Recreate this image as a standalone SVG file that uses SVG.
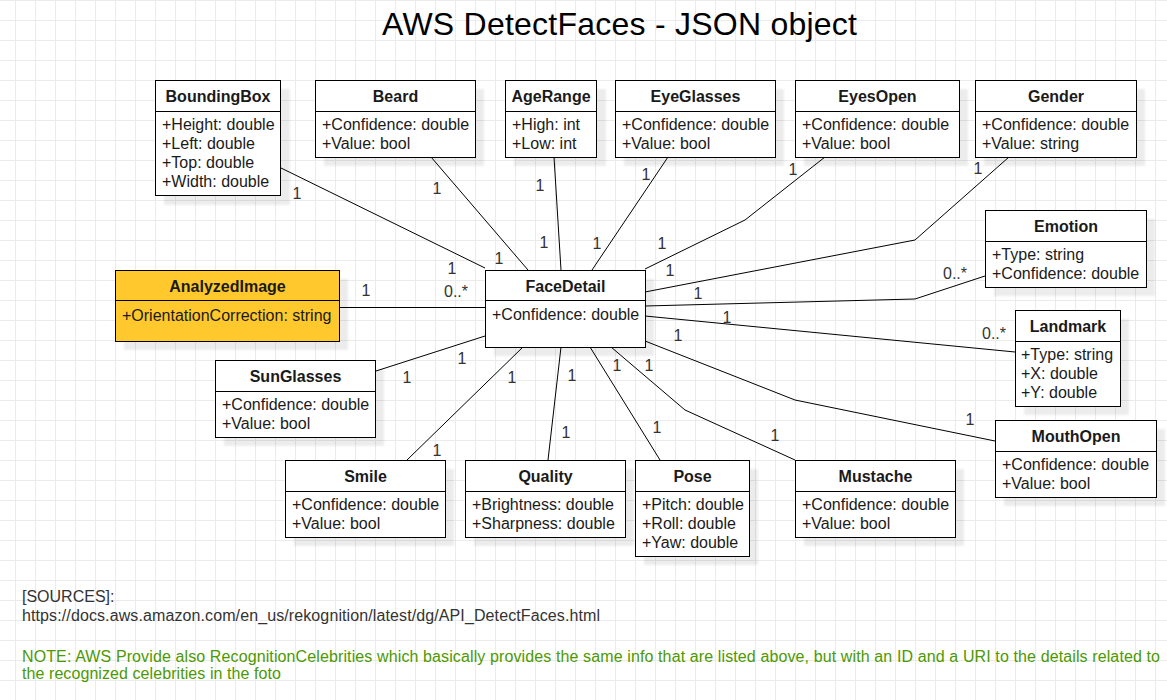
<svg xmlns="http://www.w3.org/2000/svg" width="1167" height="700" viewBox="0 0 1167 700">
<defs>
<pattern id="grid" x="15" y="0" width="20" height="20" patternUnits="userSpaceOnUse">
<path d="M0.5 0V20M0 0.5H20" stroke="#ebebeb" stroke-width="1" fill="none"/>
</pattern>
<filter id="sh" x="-10%" y="-10%" width="130%" height="140%">
<feGaussianBlur stdDeviation="1.2"/>
</filter>
<style>
.box{fill:#fff;stroke:#000;stroke-width:1}
.hl{fill:#ffc82c}
.shadow{fill:#000;opacity:0.07;filter:url(#sh)}
.div{stroke:#000;stroke-width:1}
.t{font-family:"Liberation Sans",Arial,Helvetica,sans-serif;font-size:16px;fill:#1a1a1a}
.b{font-weight:bold;text-anchor:middle}
.lbl{font-family:"Liberation Sans",Arial,Helvetica,sans-serif;font-size:16px;fill:#333;text-anchor:middle}
.edge{fill:none;stroke:#000;stroke-width:1}
.src{font-family:"Liberation Sans",Arial,Helvetica,sans-serif;font-size:16px;fill:#333}
.note{font-family:"Liberation Sans",Arial,Helvetica,sans-serif;font-size:16px;fill:#4d9900}
</style>
</defs>
<rect width="1167" height="700" fill="#fff"/>
<rect width="1167" height="700" fill="url(#grid)"/>

<text x="382" y="35" font-family="Liberation Sans,Arial,Helvetica,sans-serif" font-size="32" fill="#000" textLength="475" lengthAdjust="spacing">AWS DetectFaces - JSON object</text>

<g id="connectors">
<polyline class="edge" points="281,168 485,268"/>
<polyline class="edge" points="431,157 528,270"/>
<polyline class="edge" points="554,157 561,270"/>
<polyline class="edge" points="668,157 592,270"/>
<polyline class="edge" points="825,157 745,220 645,269"/>
<polyline class="edge" points="1009,157 915,240 645,292"/>
<polyline class="edge" points="985,276 915,299 645,306"/>
<polyline class="edge" points="1015,352 645,316"/>
<polyline class="edge" points="995,441 795,400 645,341"/>
<polyline class="edge" points="339,307.5 485,307.5"/>
<polyline class="edge" points="376,371 485,336"/>
<polyline class="edge" points="407,460 523,347"/>
<polyline class="edge" points="548,460 561,347"/>
<polyline class="edge" points="660,460 590,347"/>
<polyline class="edge" points="795,460 685,410 611,347"/>
</g>

<g id="labels">
<text class="lbl" x="297" y="199">1</text>
<text class="lbl" x="437" y="194">1</text>
<text class="lbl" x="540" y="191">1</text>
<text class="lbl" x="646" y="180">1</text>
<text class="lbl" x="793" y="175">1</text>
<text class="lbl" x="978" y="174">1</text>
<text class="lbl" x="499" y="264">1</text>
<text class="lbl" x="544" y="248">1</text>
<text class="lbl" x="597" y="249">1</text>
<text class="lbl" x="662" y="249">1</text>
<text class="lbl" x="452" y="274">1</text>
<text class="lbl" x="670" y="276">1</text>
<text class="lbl" x="955" y="279">0..*</text>
<text class="lbl" x="366" y="296">1</text>
<text class="lbl" x="456" y="297">0..*</text>
<text class="lbl" x="698" y="299">1</text>
<text class="lbl" x="727" y="323">1</text>
<text class="lbl" x="994" y="339">0..*</text>
<text class="lbl" x="678" y="341">1</text>
<text class="lbl" x="462" y="364">1</text>
<text class="lbl" x="407" y="383">1</text>
<text class="lbl" x="512" y="383">1</text>
<text class="lbl" x="572" y="381">1</text>
<text class="lbl" x="617" y="371">1</text>
<text class="lbl" x="649" y="371">1</text>
<text class="lbl" x="970" y="425">1</text>
<text class="lbl" x="657" y="433">1</text>
<text class="lbl" x="775" y="441">1</text>
<text class="lbl" x="566" y="438">1</text>
<text class="lbl" x="437" y="456">1</text>
</g>

<g id="BoundingBox">
<rect class="shadow" x="164" y="89" width="126" height="116"/>
<rect class="box" x="155.5" y="80.5" width="125" height="115"/>
<line class="div" x1="155.5" y1="111.5" x2="280.5" y2="111.5"/>
<text class="t b" x="218" y="101.5">BoundingBox</text>
<text class="t" x="162" y="130">+Height: double</text>
<text class="t" x="162" y="149">+Left: double</text>
<text class="t" x="162" y="168">+Top: double</text>
<text class="t" x="162" y="187">+Width: double</text>
</g>

<g id="Beard">
<rect class="shadow" x="324" y="89" width="160" height="77"/>
<rect class="box" x="315.5" y="80.5" width="160" height="77"/>
<line class="div" x1="315.5" y1="111.5" x2="475.5" y2="111.5"/>
<text class="t b" x="395.5" y="101.5">Beard</text>
<text class="t" x="322" y="130">+Confidence: double</text>
<text class="t" x="322" y="149">+Value: bool</text>
</g>

<g id="AgeRange">
<rect class="shadow" x="514" y="89" width="92" height="77"/>
<rect class="box" x="505.5" y="80.5" width="91" height="77"/>
<line class="div" x1="505.5" y1="111.5" x2="596.5" y2="111.5"/>
<text class="t b" x="551" y="101.5">AgeRange</text>
<text class="t" x="512" y="130">+High: int</text>
<text class="t" x="512" y="149">+Low: int</text>
</g>

<g id="EyeGlasses">
<rect class="shadow" x="624" y="89" width="160" height="77"/>
<rect class="box" x="615.5" y="80.5" width="160" height="77"/>
<line class="div" x1="615.5" y1="111.5" x2="775.5" y2="111.5"/>
<text class="t b" x="695.5" y="101.5">EyeGlasses</text>
<text class="t" x="622" y="130">+Confidence: double</text>
<text class="t" x="622" y="149">+Value: bool</text>
</g>

<g id="EyesOpen">
<rect class="shadow" x="804" y="89" width="164" height="77"/>
<rect class="box" x="795.5" y="80.5" width="164" height="77"/>
<line class="div" x1="795.5" y1="111.5" x2="959.5" y2="111.5"/>
<text class="t b" x="877.5" y="101.5">EyesOpen</text>
<text class="t" x="802" y="130">+Confidence: double</text>
<text class="t" x="802" y="149">+Value: bool</text>
</g>

<g id="Gender">
<rect class="shadow" x="984" y="89" width="161" height="77"/>
<rect class="box" x="975.5" y="80.5" width="161" height="77"/>
<line class="div" x1="975.5" y1="111.5" x2="1136.5" y2="111.5"/>
<text class="t b" x="1056" y="101.5">Gender</text>
<text class="t" x="982" y="130">+Confidence: double</text>
<text class="t" x="982" y="149">+Value: string</text>
</g>

<g id="Emotion">
<rect class="shadow" x="994" y="219" width="161" height="77"/>
<rect class="box" x="985.5" y="210.5" width="161" height="77"/>
<line class="div" x1="985.5" y1="241.5" x2="1146.5" y2="241.5"/>
<text class="t b" x="1066" y="231.5">Emotion</text>
<text class="t" x="992" y="260">+Type: string</text>
<text class="t" x="992" y="279">+Confidence: double</text>
</g>

<g id="Landmark">
<rect class="shadow" x="1024" y="319" width="105" height="96"/>
<rect class="box" x="1015.5" y="310.5" width="105" height="96"/>
<line class="div" x1="1015.5" y1="341.5" x2="1120.5" y2="341.5"/>
<text class="t b" x="1068" y="331.5">Landmark</text>
<text class="t" x="1021" y="360">+Type: string</text>
<text class="t" x="1021" y="379">+X: double</text>
<text class="t" x="1021" y="398">+Y: double</text>
</g>

<g id="MouthOpen">
<rect class="shadow" x="1004" y="429" width="161" height="77"/>
<rect class="box" x="995.5" y="420.5" width="161" height="77"/>
<line class="div" x1="995.5" y1="451.5" x2="1156.5" y2="451.5"/>
<text class="t b" x="1076" y="441.5">MouthOpen</text>
<text class="t" x="1002" y="470">+Confidence: double</text>
<text class="t" x="1002" y="489">+Value: bool</text>
</g>

<g id="AnalyzedImage">
<rect class="shadow" x="124" y="279" width="224" height="71"/>
<rect class="box hl" x="115.5" y="270.5" width="224" height="71"/>
<line class="div" x1="115.5" y1="300.5" x2="339.5" y2="300.5"/>
<text class="t b" x="227.5" y="291.5">AnalyzedImage</text>
<text class="t" x="122" y="320.5">+OrientationCorrection: string</text>
</g>

<g id="FaceDetail">
<rect class="shadow" x="494" y="279" width="160" height="77"/>
<rect class="box" x="485.5" y="270.5" width="160" height="77"/>
<line class="div" x1="485.5" y1="300.5" x2="645.5" y2="300.5"/>
<text class="t b" x="565.5" y="291.5">FaceDetail</text>
<text class="t" x="492" y="320">+Confidence: double</text>
</g>

<g id="SunGlasses">
<rect class="shadow" x="224" y="369" width="160" height="77"/>
<rect class="box" x="215.5" y="360.5" width="160" height="77"/>
<line class="div" x1="215.5" y1="391.5" x2="375.5" y2="391.5"/>
<text class="t b" x="295.5" y="381.5">SunGlasses</text>
<text class="t" x="222" y="410">+Confidence: double</text>
<text class="t" x="222" y="429">+Value: bool</text>
</g>

<g id="Smile">
<rect class="shadow" x="294" y="469" width="160" height="77"/>
<rect class="box" x="285.5" y="460.5" width="160" height="77"/>
<line class="div" x1="285.5" y1="491.5" x2="445.5" y2="491.5"/>
<text class="t b" x="365.5" y="481.5">Smile</text>
<text class="t" x="292" y="510">+Confidence: double</text>
<text class="t" x="292" y="529">+Value: bool</text>
</g>

<g id="Quality">
<rect class="shadow" x="474" y="469" width="160" height="77"/>
<rect class="box" x="465.5" y="460.5" width="160" height="77"/>
<line class="div" x1="465.5" y1="491.5" x2="625.5" y2="491.5"/>
<text class="t b" x="545.5" y="481.5">Quality</text>
<text class="t" x="472" y="510">+Brightness: double</text>
<text class="t" x="472" y="529">+Sharpness: double</text>
</g>

<g id="Pose">
<rect class="shadow" x="644" y="469" width="114" height="96"/>
<rect class="box" x="635.5" y="460.5" width="114" height="96"/>
<line class="div" x1="635.5" y1="491.5" x2="749.5" y2="491.5"/>
<text class="t b" x="692.5" y="481.5">Pose</text>
<text class="t" x="642" y="510">+Pitch: double</text>
<text class="t" x="642" y="529">+Roll: double</text>
<text class="t" x="642" y="548">+Yaw: double</text>
</g>

<g id="Mustache">
<rect class="shadow" x="804" y="469" width="160" height="77"/>
<rect class="box" x="795.5" y="460.5" width="160" height="77"/>
<line class="div" x1="795.5" y1="491.5" x2="955.5" y2="491.5"/>
<text class="t b" x="875.5" y="481.5">Mustache</text>
<text class="t" x="802" y="510">+Confidence: double</text>
<text class="t" x="802" y="529">+Value: bool</text>
</g>

<g id="sources">
<text class="src" x="22" y="602">[SOURCES]:</text>
<text class="src" x="22" y="620.5" textLength="578" lengthAdjust="spacing">https://docs.aws.amazon.com/en_us/rekognition/latest/dg/API_DetectFaces.html</text>
</g>
<g id="note">
<text class="note" x="22" y="662" textLength="1138" lengthAdjust="spacing">NOTE: AWS Provide also RecognitionCelebrities which basically provides the same info that are listed above, but with an ID and a URI to the details related to</text>
<text class="note" x="22" y="679" textLength="259" lengthAdjust="spacing">the recognized celebrities in the foto</text>
</g>
</svg>
